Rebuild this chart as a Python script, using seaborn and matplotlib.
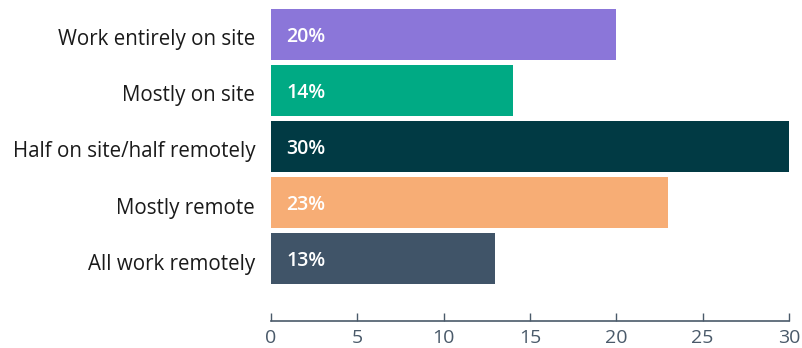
import matplotlib
matplotlib.use("Agg")
import matplotlib.pyplot as plt
import matplotlib.transforms as mtransforms
import seaborn as sns
import pandas as pd

categories = ["Work entirely on site", "Mostly on site", "Half on site/half remotely",
              "Mostly remote", "All work remotely"]
values = [20, 14, 30, 23, 13]
colors = ["#8B76D9", "#00AA84", "#013A44", "#F7AD75", "#405468"]
x_ticks = [0, 5, 10, 15, 20, 25, 30]

sns.set_style("white")
plt.rcParams["font.family"] = ["Open Sans", "DejaVu Sans"]

df = pd.DataFrame({"category": categories, "value": values})

fig = plt.figure(figsize=(8.03, 3.48), dpi=100)
ax = fig.add_axes([271 / 803, 27 / 348, 518 / 803, 321 / 348])

sns.barplot(data=df, y="category", x="value", hue="category", palette=colors,
            order=categories, hue_order=categories, legend=False, width=0.91,
            saturation=1, linewidth=0, ax=ax)

for i, v in enumerate(values):
    ax.annotate(f"{v}%", xy=(0, i), xytext=(11, -2), textcoords="offset points",
                ha="left", va="center", color="white", fontsize=14, fontweight="semibold")

ax.set_xlim(0, 30)
ax.set_ylim(5.116, -0.616)
ax.set_xticks(x_ticks)
ax.set_xlabel("")
ax.set_ylabel("")

for s in ["top", "right", "left"]:
    ax.spines[s].set_visible(False)
ax.spines["bottom"].set_color("#4A5A6A")
ax.spines["bottom"].set_linewidth(1.2)

ax.tick_params(axis="x", bottom=True, direction="in", length=6, width=1, color="#4A5A6A",
               labelcolor="#4A5A6A", labelsize=14, pad=5.5)
ax.tick_params(axis="y", left=False, length=0, labelsize=14.8, labelcolor="#1a1a1a", pad=11.5)

# nudge category labels slightly below the bar centres
shift = mtransforms.ScaledTranslation(0, -3 / 100, fig.dpi_scale_trans)
for lbl in ax.get_yticklabels():
    lbl.set_transform(lbl.get_transform() + shift)

fig.savefig("out.png", dpi=100)
